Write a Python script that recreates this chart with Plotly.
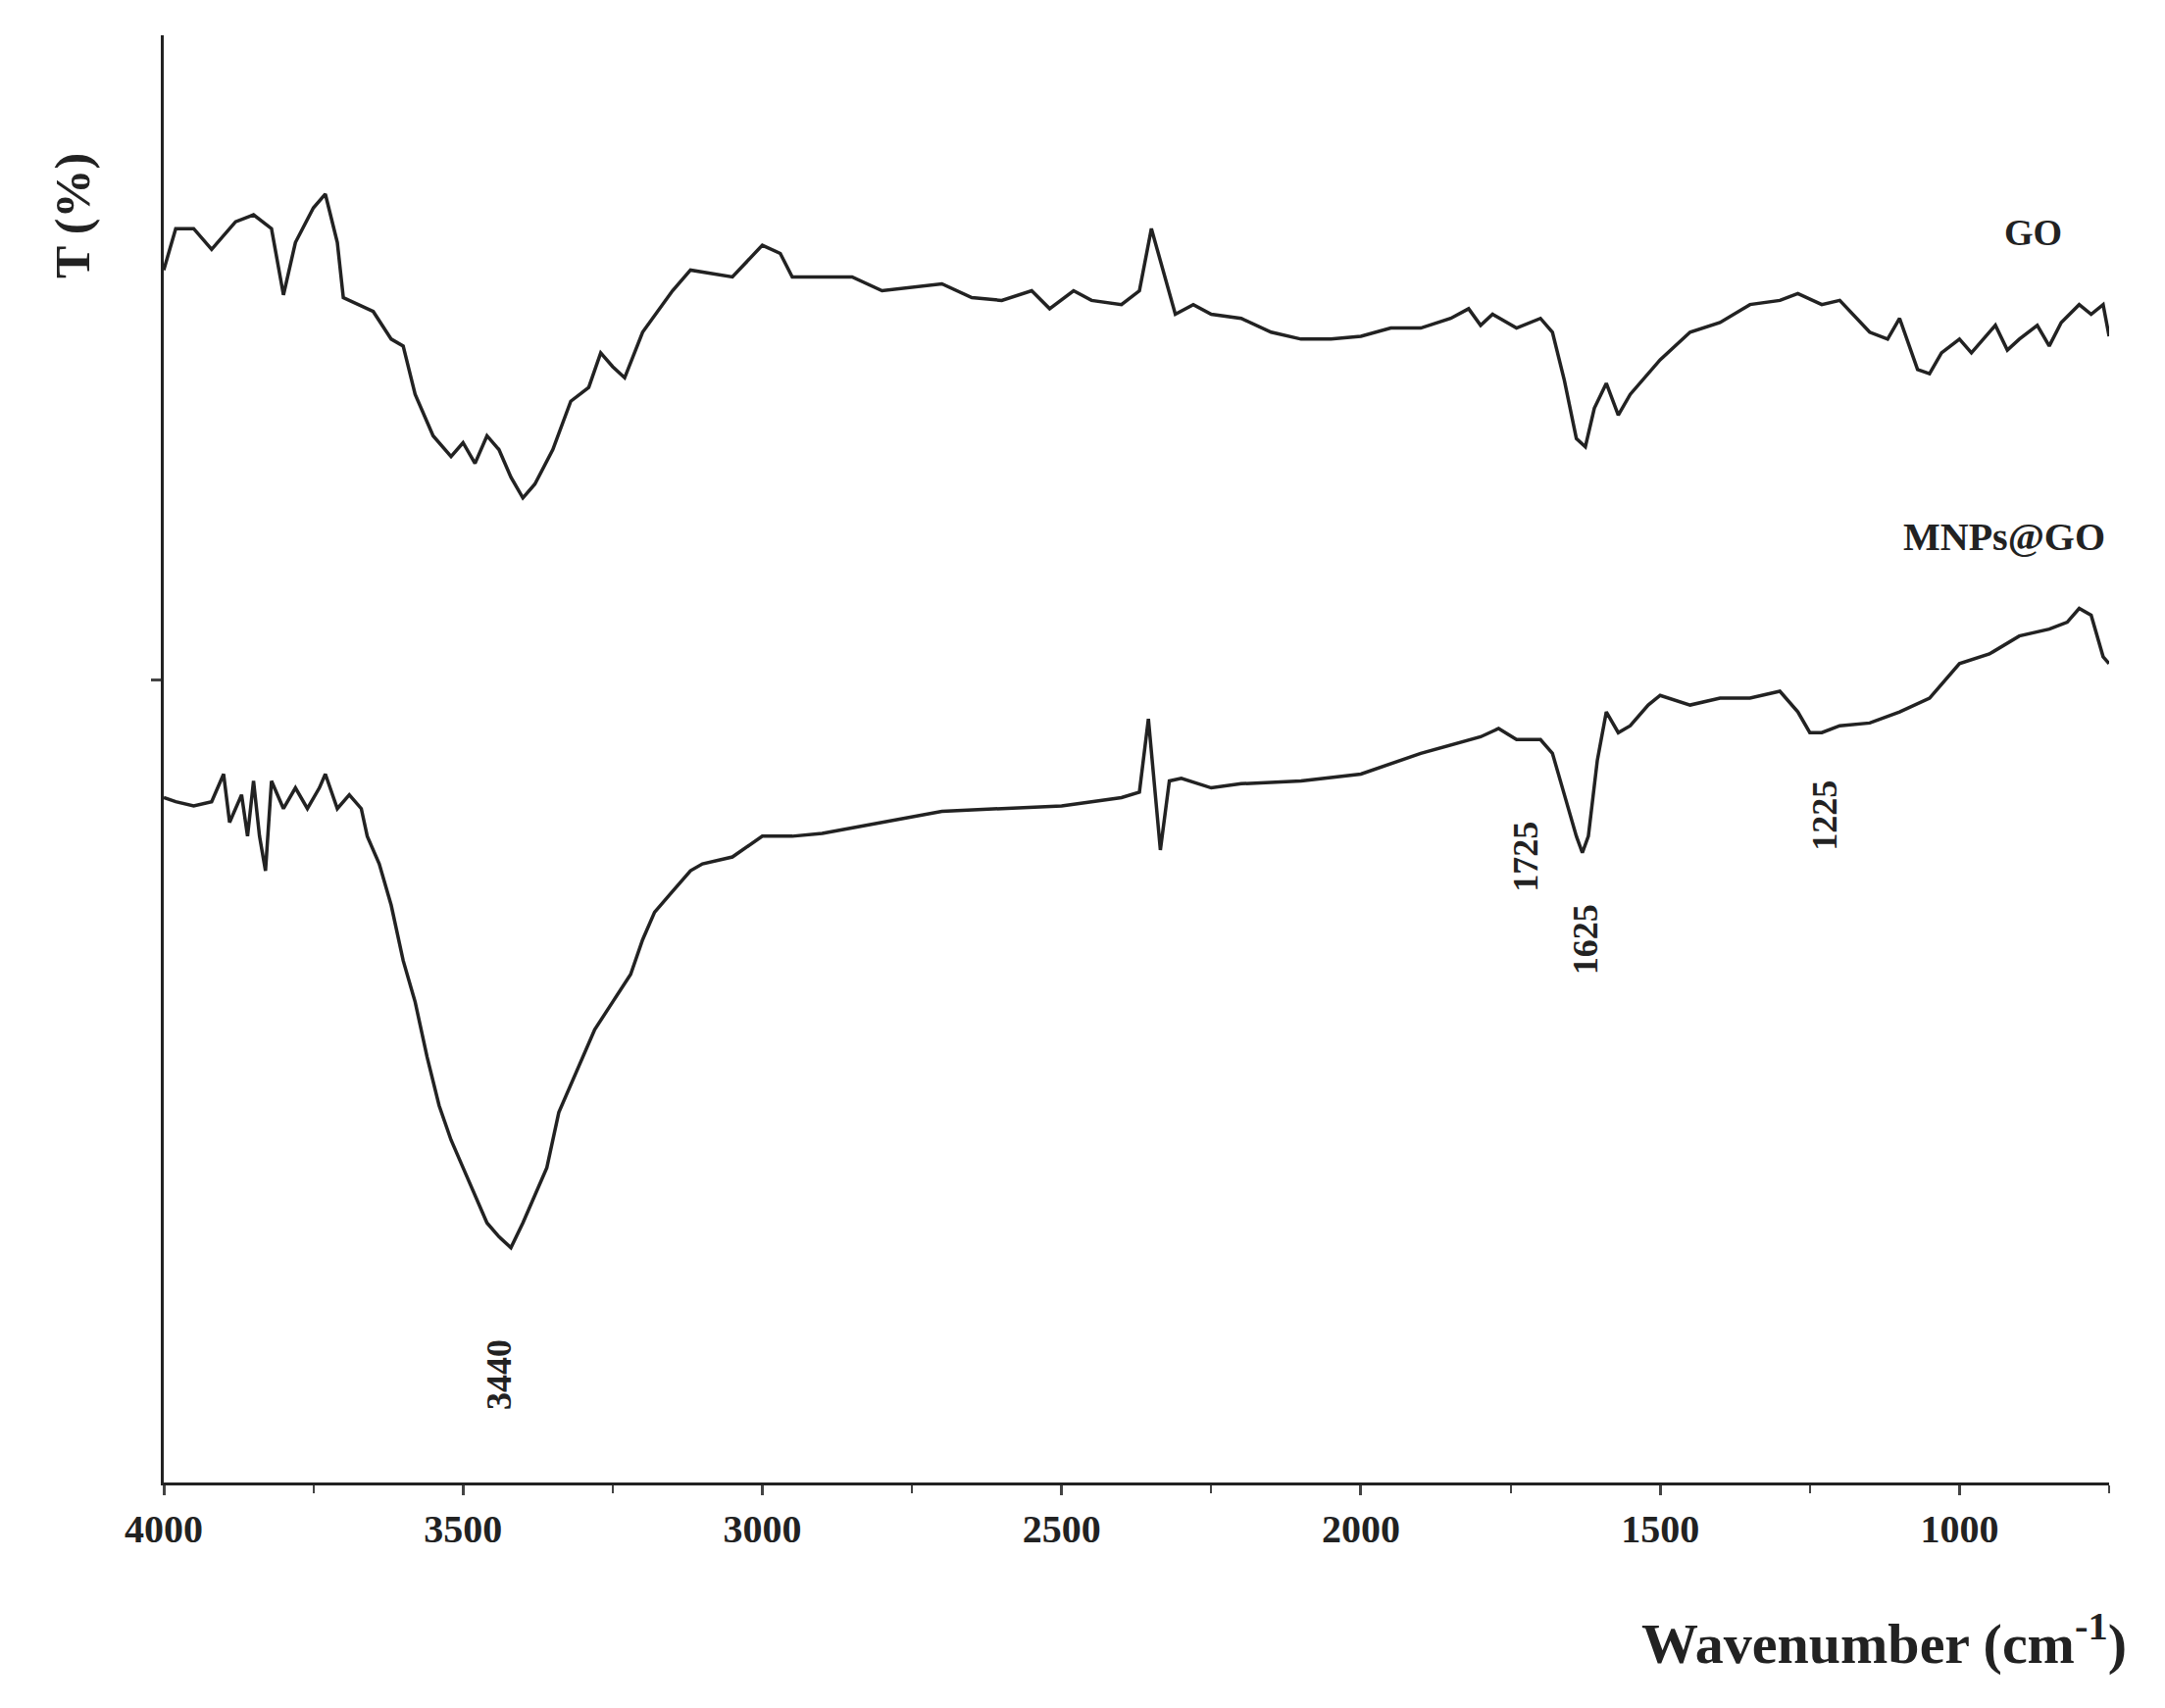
import plotly.graph_objects as go

# GO spectrum (wavenumber, arbitrary transmittance units)
go_wn = [4000, 3980, 3950, 3920, 3880, 3850, 3820, 3800, 3780, 3750, 3730, 3710, 3700,
         3650, 3620, 3600, 3580, 3550, 3520, 3500, 3480, 3460, 3440, 3420, 3400, 3380,
         3350, 3320, 3290, 3270, 3250, 3230, 3200, 3150, 3120, 3050, 3000, 2970, 2950,
         2850, 2800, 2700, 2650, 2600, 2550, 2520, 2480, 2450, 2400, 2370, 2350, 2330,
         2310, 2280, 2250, 2200, 2150, 2100, 2050, 2000, 1950, 1900, 1850, 1820, 1800,
         1780, 1740, 1700, 1680, 1660, 1640, 1625, 1610, 1590, 1570, 1550, 1500, 1450,
         1400, 1350, 1300, 1270, 1230, 1200, 1150, 1120, 1100, 1070, 1050, 1030, 1000,
         980, 960, 940, 920, 900, 870, 850, 830, 800, 780, 760, 750]
go_t = [878, 908, 908, 893, 913, 918, 908, 860, 898, 923, 933, 898, 858,
        848, 828, 823, 788, 758, 743, 753, 738, 758, 748, 728, 713, 723,
        748, 783, 793, 818, 808, 800, 833, 863, 878, 873, 896, 890, 873,
        873, 863, 868, 858, 856, 863, 850, 863, 856, 853, 863, 908, 878,
        846, 853, 846, 843, 833, 828, 828, 830, 836, 836, 843, 850, 838,
        846, 836, 843, 833, 798, 756, 750, 778, 796, 773, 788, 813, 833,
        840, 853, 856, 861, 853, 856, 833, 828, 843, 806, 803, 818, 828,
        818, 828, 838, 820, 828, 838, 823, 840, 853, 846, 853, 830]

# MNPs@GO spectrum
mnp_wn = [4000, 3980, 3950, 3920, 3900, 3890, 3870, 3860, 3850, 3840, 3830, 3820, 3800,
          3780, 3760, 3740, 3730, 3710, 3690, 3670, 3660, 3640, 3620, 3600, 3580, 3560,
          3540, 3520, 3500, 3480, 3460, 3440, 3420, 3400, 3380, 3360, 3340, 3320, 3300,
          3280, 3250, 3220, 3200, 3180, 3150, 3120, 3100, 3050, 3000, 2950, 2900, 2800,
          2700, 2600, 2500, 2400, 2370, 2355, 2345, 2335, 2320, 2300, 2250, 2200, 2100,
          2000, 1900, 1800, 1770, 1740, 1700, 1680, 1660, 1640, 1630, 1620, 1605, 1590,
          1570, 1550, 1520, 1500, 1450, 1400, 1350, 1300, 1270, 1250, 1230, 1200, 1150,
          1100, 1050, 1000, 950, 900, 850, 820, 800, 780, 760, 750]
mnp_t = [496, 493, 490, 493, 513, 478, 498, 468, 508, 468, 443, 508, 488,
         503, 488, 503, 513, 488, 498, 488, 468, 448, 418, 378, 348, 308,
         273, 248, 228, 208, 188, 178, 170, 188, 208, 228, 268, 288, 308,
         328, 348, 368, 393, 413, 428, 443, 448, 453, 468, 468, 470, 478,
         486, 488, 490, 496, 500, 553, 508, 458, 508, 510, 503, 506, 508,
         513, 528, 540, 546, 538, 538, 528, 498, 468, 456, 468, 523, 558,
         543, 548, 563, 570, 563, 568, 568, 573, 558, 543, 543, 548, 550,
         558, 568, 593, 600, 613, 618, 623, 633, 628, 598, 593]

peak_labels = ["3440", "1725", "1625", "1225"]
peak_x = [3440, 1725, 1625, 1225]
peak_y = [78, 453, 393, 483]

x_ticks = [4000, 3500, 3000, 2500, 2000, 1500, 1000]

SERIF = "Liberation Serif, Times New Roman, serif"

fig = go.Figure()
fig.add_trace(go.Scatter(x=go_wn, y=go_t, mode="lines", line=dict(color="#222", width=3.5)))
fig.add_trace(go.Scatter(x=mnp_wn, y=mnp_t, mode="lines", line=dict(color="#222", width=3.5)))

for lab, x, y in zip(peak_labels, peak_x, peak_y):
    fig.add_annotation(x=x, y=y, text=f"<b>{lab}</b>", textangle=-90, showarrow=False,
                       font=dict(family=SERIF, size=36, color="#222"))

fig.add_annotation(x=877, y=905, text="<b>GO</b>", showarrow=False,
                   font=dict(family=SERIF, size=38, color="#222"))
fig.add_annotation(x=925, y=685, text="<b>MNPs@GO</b>", showarrow=False,
                   font=dict(family=SERIF, size=40, color="#222"))
fig.add_annotation(xref="paper", yref="paper", x=-0.062, y=0.92, text="<b>T (%)</b>",
                   textangle=-90, showarrow=False,
                   font=dict(family=SERIF, size=50, color="#222"))
fig.add_annotation(xref="paper", yref="paper", x=1.01, y=-0.135, xanchor="right",
                   text="<b>Wavenumber (cm<sup>-1</sup>)</b>", showarrow=False,
                   font=dict(family=SERIF, size=58, color="#222"))

fig.update_xaxes(range=[4000, 750], tickvals=x_ticks,
                 ticktext=[f"<b>{v}</b>" for v in x_ticks],
                 ticks="outside", ticklen=10, tickwidth=2.5, showline=True, linewidth=3,
                 linecolor="#222", showgrid=False, zeroline=False,
                 minor=dict(tickvals=[3750, 3250, 2750, 2250, 1750, 1250, 750],
                            ticks="outside", ticklen=8, tickwidth=2),
                 tickfont=dict(family=SERIF, size=40, color="#222"))
fig.update_yaxes(range=[0, 1048], tickvals=[581], ticktext=[""], ticks="outside",
                 ticklen=10, tickwidth=2.5, showline=True, linewidth=3, linecolor="#222",
                 showgrid=False, zeroline=False)

fig.update_layout(width=2208, height=1742, showlegend=False, plot_bgcolor="white",
                  paper_bgcolor="white", margin=dict(l=159, r=65, t=28, b=238))
fig.write_html("out.html")
